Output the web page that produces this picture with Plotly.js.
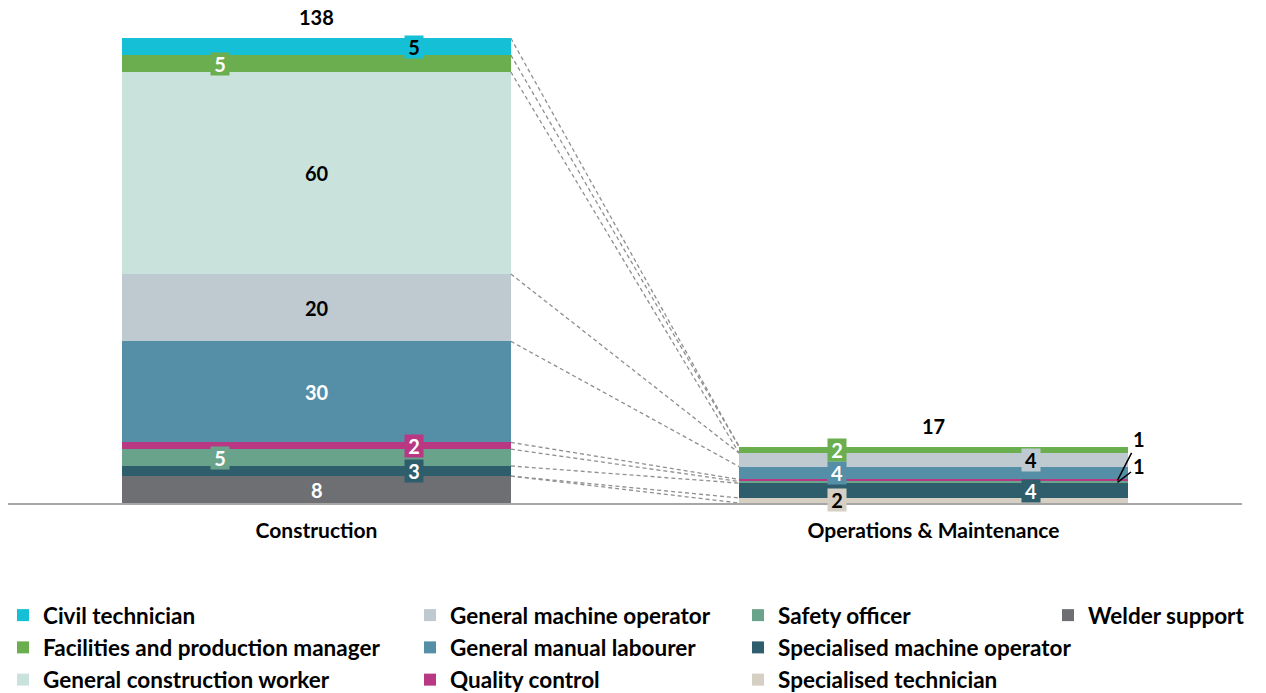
<!DOCTYPE html>
<html>
<head>
<meta charset="utf-8">
<script src="https://cdn.plot.ly/plotly-3.0.1.min.js"></script>
<style>
  html, body { margin: 0; padding: 0; background: #fff; }
  #chart { width: 1266px; height: 693px; }
</style>
</head>
<body>
<div id="chart"></div>
<script>
// Workforce by role, construction vs operations phase
var phases = ["Construction", "Operations & Maintenance"];

// stacked bottom -> top
var roles = [
  "Welder support",
  "Specialised technician",
  "Specialised machine operator",
  "Safety officer",
  "Quality control",
  "General manual labourer",
  "General machine operator",
  "General construction worker",
  "Facilities and production manager",
  "Civil technician"
];
var construction = [8, 0, 3, 5, 2, 30, 20, 60, 5, 5];
var operations   = [0, 1.5, 4.4, 0.5, 0.6, 3.8, 4.0, 0, 1.9, 0];

var colors = ["#6e6f73", "#d6cfc4", "#2e5e6c", "#6aa38b", "#b93884",
              "#558fa7", "#bec9d0", "#c9e3dc", "#6aae4f", "#15bfd6"];
var darkText = ["#fff", "#000", "#fff", "#fff", "#fff", "#fff", "#000", "#000", "#fff", "#000"];
var legendOf = ["legend4", "legend3", "legend3", "legend3", "legend2",
                "legend2", "legend2", "legend", "legend", "legend"];

var FONT = "Lato, 'Open Sans', sans-serif";
var bargap = 0.37;
var half = (1 - bargap) / 2;
var series = [construction, operations];

var data = roles.map(function (r, i) {
  return {
    type: "bar",
    name: r,
    x: phases,
    y: [construction[i], operations[i]],
    marker: { color: colors[i] },
    legend: legendOf[i],
    hoverinfo: "name+y"
  };
});

// segment labels
var annotations = [];
var startSide = [1, -1]; // first small label from the bottom goes right / left
series.forEach(function (vals, p) {
  var cum = 0, side = startSide[p];
  var tiny = [];
  vals.forEach(function (v, i) {
    var mid = cum + v / 2;
    cum += v;
    if (v <= 0) return;
    if (v < 1) { tiny.push(mid); return; }
    var a = {
      x: phases[p], y: mid, text: String(Math.round(v)), showarrow: false,
      font: { family: FONT, size: 20, color: darkText[i], weight: "bold" }
    };
    if (v < 8) {
      a.xshift = side * 97;
      a.bgcolor = colors[i];
      a.width = 18;
      a.height = 22;
      a.borderpad = 0;
      side = -side;
    }
    annotations.push(a);
  });
  tiny.forEach(function (m, j) {
    annotations.push({
      x: phases[p], y: m, xshift: 184, text: "1", showarrow: true,
      arrowhead: 0, arrowwidth: 1.5, arrowcolor: "#000", standoff: 0,
      ax: 21, ay: j === 0 ? -16 : -41,
      font: { family: FONT, size: 20, color: "#000", weight: "bold" }
    });
  });
  annotations.push({
    x: phases[p], y: cum, yanchor: "bottom", yshift: 7,
    text: String(Math.round(cum)), showarrow: false,
    font: { family: FONT, size: 20, color: "#000", weight: "bold" }
  });
});

// dashed connectors between segment boundaries
var shapes = [];
var c0 = 0, c1 = 0;
roles.forEach(function (r, i) {
  c0 += construction[i];
  c1 += operations[i];
  shapes.push({
    type: "line", xref: "x", yref: "y",
    x0: half, y0: c0, x1: 1 - half, y1: c1,
    line: { color: "#8f8f8f", width: 1.3, dash: "4px,3px" }
  });
});

function legendAt(xpx) {
  return {
    xref: "container", yref: "container",
    x: xpx / 1266, y: 1 - 594 / 693, xanchor: "left", yanchor: "top",
    orientation: "v", traceorder: "reversed",
    font: { family: FONT, size: 22.5, color: "#000", weight: "bold" },
    bgcolor: "rgba(0,0,0,0)"
  };
}

var layout = {
  width: 1266,
  height: 693,
  margin: { l: 8, r: 24, t: 10, b: 190, autoexpand: false },
  paper_bgcolor: "#fff",
  plot_bgcolor: "#fff",
  barmode: "stack",
  bargap: bargap,
  showlegend: true,
  font: { family: FONT },
  xaxis: {
    range: [-0.5, 1.5], automargin: false,
    showgrid: false, zeroline: false,
    showline: true, linecolor: "#a6a6a6", linewidth: 2,
    ticks: "", tickangle: 0, ticklabelstandoff: 8,
    tickfont: { family: FONT, size: 21, color: "#000", weight: "bold" }
  },
  yaxis: {
    range: [0, 146.4], visible: false, showgrid: false, zeroline: false
  },
  legend: legendAt(3),
  legend2: legendAt(410),
  legend3: legendAt(738),
  legend4: legendAt(1048),
  annotations: annotations,
  shapes: shapes
};

Plotly.newPlot("chart", data, layout, { displayModeBar: false, staticPlot: true });
</script>
</body>
</html>
